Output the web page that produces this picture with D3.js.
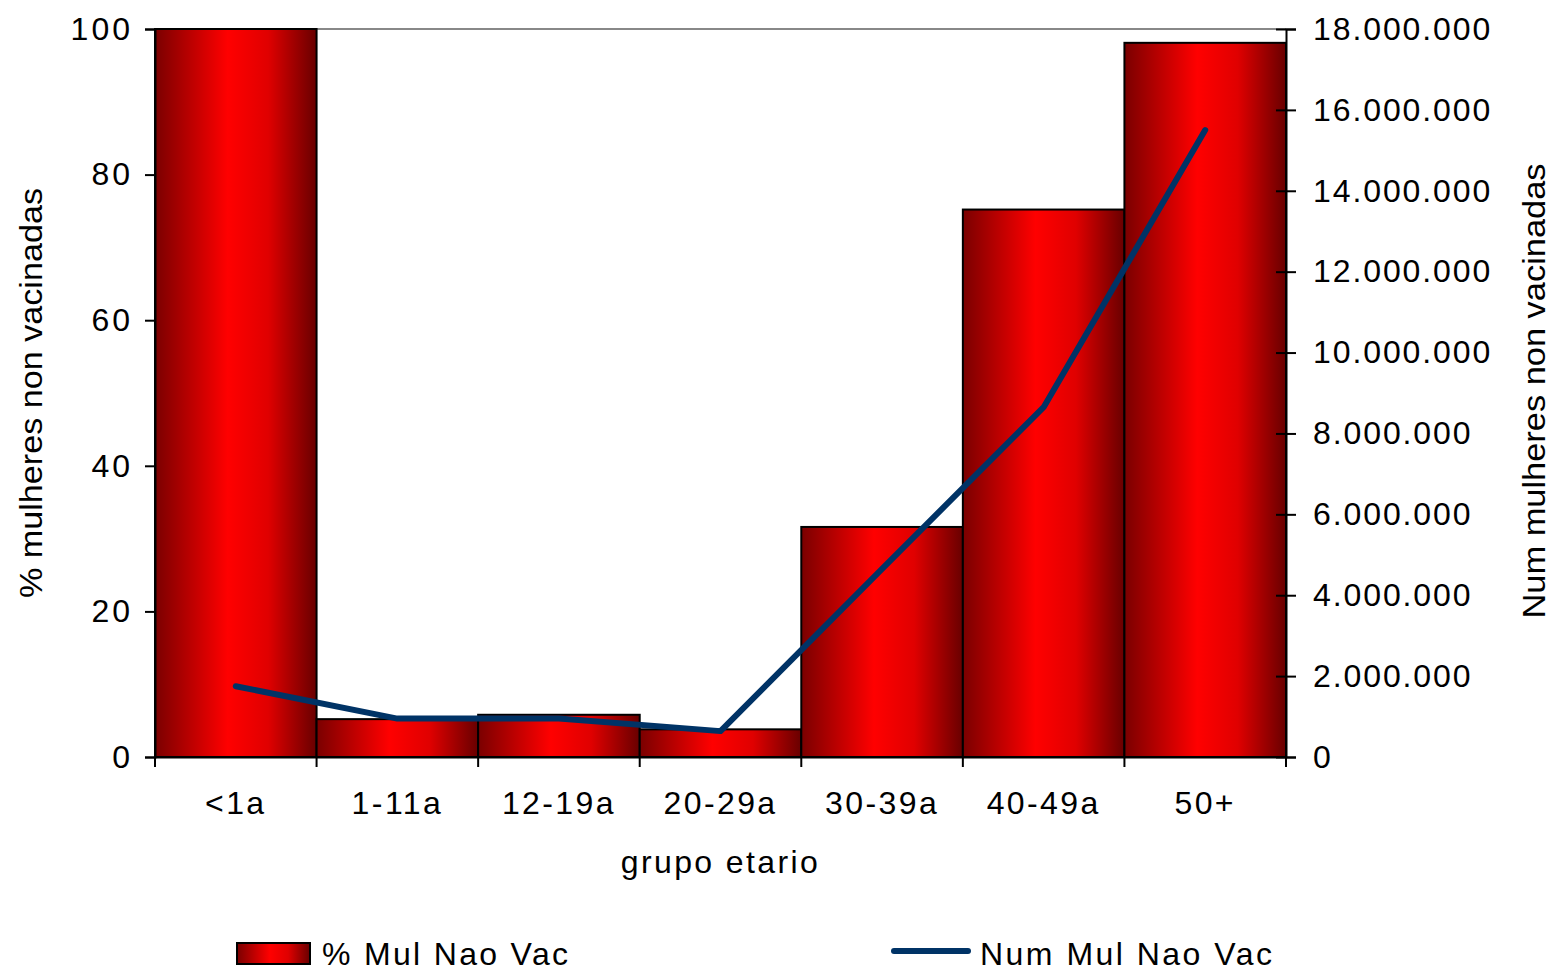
<!DOCTYPE html>
<html>
<head>
<meta charset="utf-8">
<script src="https://cdn.jsdelivr.net/npm/d3@7"></script>
<style>
  body { margin: 0; background: #fff; }
  svg { font-family: "Liberation Sans", Arial, sans-serif; }
</style>
</head>
<body>
<svg id="chart" width="1551" height="971"></svg>
<script>
const categories = ["<1a", "1-11a", "12-19a", "20-29a", "30-39a", "40-49a", "50+"];
const pctValues = [100, 5.2, 5.8, 3.8, 31.6, 75.2, 98.1];
const numValues = [1750000, 950000, 950000, 640000, 4650000, 8650000, 15500000];
const leftTicks = [0, 20, 40, 60, 80, 100];
const rightTicks = [0, 2000000, 4000000, 6000000, 8000000, 10000000, 12000000, 14000000, 16000000, 18000000];

const width = 1551, height = 971;
const margin = { top: 29, right: 265, bottom: 214, left: 155 };
const innerW = width - margin.left - margin.right;
const innerH = height - margin.top - margin.bottom;

const svg = d3.select("#chart");

// gradient for the bars
const defs = svg.append("defs");
const grad = defs.append("linearGradient").attr("id", "barGrad")
  .attr("x1", "0%").attr("x2", "100%").attr("y1", "0%").attr("y2", "0%");
grad.append("stop").attr("offset", "0%").attr("stop-color", "#7a0000");
grad.append("stop").attr("offset", "45%").attr("stop-color", "#ff0000");
grad.append("stop").attr("offset", "70%").attr("stop-color", "#e00000");
grad.append("stop").attr("offset", "100%").attr("stop-color", "#680000");

const g = svg.append("g").attr("transform", `translate(${margin.left},${margin.top})`);

const x = d3.scaleBand().domain(categories).range([0, innerW]).padding(0);
const yL = d3.scaleLinear().domain([0, 100]).range([innerH, 0]);
const yR = d3.scaleLinear().domain([0, 18000000]).range([innerH, 0]);

// top grid line
g.append("line")
  .attr("x1", 0).attr("x2", innerW)
  .attr("y1", yL(100)).attr("y2", yL(100))
  .attr("stroke", "#888").attr("stroke-width", 2);

// bars
g.selectAll(".bar")
  .data(categories)
  .enter()
  .append("rect")
  .attr("class", "bar")
  .attr("x", (d) => x(d))
  .attr("y", (d, i) => yL(pctValues[i]))
  .attr("width", x.bandwidth())
  .attr("height", (d, i) => innerH - yL(pctValues[i]))
  .attr("fill", "url(#barGrad)")
  .attr("stroke", "#000")
  .attr("stroke-width", 2);

// line
const line = d3.line()
  .x((d, i) => x(categories[i]) + x.bandwidth() / 2)
  .y((d) => yR(d));

g.append("path")
  .datum(numValues)
  .attr("d", line)
  .attr("fill", "none")
  .attr("stroke", "#003366")
  .attr("stroke-width", 6)
  .attr("stroke-linecap", "round")
  .attr("stroke-linejoin", "round");

const font = "Liberation Sans, Arial, sans-serif";

// left axis
const axL = g.append("g")
  .call(d3.axisLeft(yL).tickValues(leftTicks).tickSize(10).tickPadding(14));
axL.select(".domain").attr("stroke", "#000").attr("stroke-width", 2);
axL.selectAll(".tick line").attr("stroke-width", 2);
axL.selectAll("text").attr("font-size", 32).attr("fill", "#000")
  .attr("font-family", font).attr("letter-spacing", 3).attr("dx", 2);

// right axis
const fmt = (v) => d3.format(",")(v).replace(/,/g, ".");
const axR = g.append("g").attr("transform", `translate(${innerW},0)`)
  .call(d3.axisRight(yR).tickValues(rightTicks).tickSize(10).tickPadding(17).tickFormat(fmt));
axR.select(".domain").attr("stroke", "#000").attr("stroke-width", 2);
axR.selectAll(".tick line").attr("x1", -10).attr("stroke-width", 2);
axR.selectAll("text").attr("font-size", 32).attr("fill", "#000")
  .attr("font-family", font).attr("letter-spacing", 1.9);

// x axis
const axX = g.append("g").attr("transform", `translate(0,${innerH})`)
  .call(d3.axisBottom(x).tickSize(0).tickPadding(34));
axX.select(".domain").attr("stroke", "#000").attr("stroke-width", 2);
axX.selectAll("text").attr("font-size", 32).attr("fill", "#000")
  .attr("font-family", font).attr("letter-spacing", 2.4);

// x ticks at band edges
const edges = categories.map((d) => x(d)).concat([innerW]);
g.selectAll(".xedge")
  .data(edges)
  .enter()
  .append("line")
  .attr("class", "xedge")
  .attr("x1", (d) => d).attr("x2", (d) => d)
  .attr("y1", innerH).attr("y2", innerH + 10)
  .attr("stroke", "#000").attr("stroke-width", 2);

// axis titles
svg.append("text")
  .attr("x", margin.left + innerW / 2)
  .attr("y", 873)
  .attr("text-anchor", "middle")
  .attr("font-size", 32)
  .attr("letter-spacing", 2.4)
  .text("grupo etario");

svg.append("text")
  .attr("transform", `translate(42,${margin.top + innerH / 2}) rotate(-90)`)
  .attr("text-anchor", "middle")
  .attr("font-size", 31)
  .attr("textLength", 410)
  .attr("lengthAdjust", "spacingAndGlyphs")
  .text("% mulheres non vacinadas");

svg.append("text")
  .attr("transform", `translate(1545,${margin.top + innerH / 2 - 2}) rotate(-90)`)
  .attr("text-anchor", "middle")
  .attr("font-size", 31)
  .attr("textLength", 455)
  .attr("lengthAdjust", "spacingAndGlyphs")
  .text("Num mulheres non vacinadas");

// legend
const leg = svg.append("g");
leg.append("rect")
  .attr("x", 237).attr("y", 943).attr("width", 73).attr("height", 21)
  .attr("fill", "url(#barGrad)").attr("stroke", "#000").attr("stroke-width", 2);
leg.append("text")
  .attr("x", 322).attr("y", 965).attr("font-size", 32)
  .attr("textLength", 246).attr("lengthAdjust", "spacing")
  .text("% Mul Nao Vac");
leg.append("line")
  .attr("x1", 894).attr("x2", 968).attr("y1", 951).attr("y2", 951)
  .attr("stroke", "#003366").attr("stroke-width", 6).attr("stroke-linecap", "round");
leg.append("text")
  .attr("x", 980).attr("y", 965).attr("font-size", 32)
  .attr("textLength", 292).attr("lengthAdjust", "spacing")
  .text("Num Mul Nao Vac");
</script>
</body>
</html>
